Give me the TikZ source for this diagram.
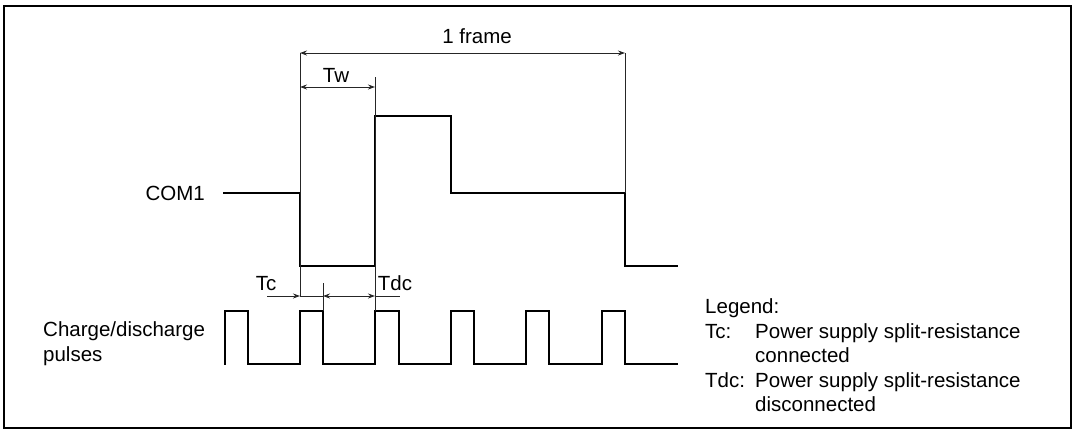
\documentclass[tikz,border=0pt]{standalone}
\usepackage{fontspec}
\setmainfont{Liberation Sans}
\usetikzlibrary{arrows.meta}
\begin{document}
\begin{tikzpicture}[x=1pt,y=-1pt,
  wave/.style={line width=2.8pt,line join=miter,line cap=rect},
  thin/.style={line width=0.9pt,black!85},
  dim/.style={thin,{Stealth[length=7pt,width=5pt]}-{Stealth[length=7pt,width=5pt]}},
  dimr/.style={thin,-{Stealth[length=7pt,width=5pt]}},
  lbl/.style={font=\fontsize{20.5}{24.5}\selectfont,inner sep=0pt,anchor=base},
  border/.style={line width=2pt}]
\useasboundingbox (0,0) rectangle (1075,432);
\draw[border] (4,6) rectangle (1070.5,428);

% COM1 waveform
\coordinate (c0) at (224,193);
\coordinate (c1) at (300,193);
\coordinate (c2) at (300,266);
\coordinate (c3) at (375,266);
\coordinate (c4) at (375,116);
\coordinate (c5) at (451,116);
\coordinate (c6) at (451,193);
\coordinate (c7) at (625,193);
\coordinate (c8) at (625,266);
\coordinate (c9) at (677,266);
\draw[wave] (c0) -- (c1) -- (c2) -- (c3) -- (c4) -- (c5) -- (c6) -- (c7) -- (c8) -- (c9);

% pulses
\draw[wave] (225,364)
  -- (225,311) -- (248,311) -- (248,364)
  -- (300,364) -- (300,311) -- (323,311) -- (323,364)
  -- (375,364) -- (375,311) -- (399,311) -- (399,364)
  -- (451,364) -- (451,311) -- (474,311) -- (474,364)
  -- (526,364) -- (526,311) -- (549,311) -- (549,364)
  -- (602,364) -- (602,311) -- (625,311) -- (625,364)
  -- (677,364);

% extension lines
\coordinate (e1t) at (300,53);  \coordinate (e1b) at (300,297);
\coordinate (e2t) at (375,77);  \coordinate (e2b) at (375,311);
\coordinate (e3t) at (625,53);  \coordinate (e3b) at (625,193);
\coordinate (e4t) at (323,283); \coordinate (e4b) at (323,311);
\draw[thin] (e1t) -- (e1b);
\draw[thin] (e2t) -- (e2b);
\draw[thin] (e3t) -- (e3b);
\draw[thin] (e4t) -- (e4b);

% dimension arrows
\coordinate (f1) at (300,53); \coordinate (f2) at (625,53);
\draw[dim] (f1) -- (f2);
\coordinate (w1) at (300,87); \coordinate (w2) at (375,87);
\draw[dim] (w1) -- (w2);
\coordinate (t0) at (267,296); \coordinate (t1) at (300,296);
\coordinate (t2) at (323,296); \coordinate (t3) at (375,296);
\coordinate (t4) at (400,296);
\draw[dimr] (t0) -- (t1);
\draw[thin] (t1) -- (t2);
\draw[dim] (t2) -- (t3);
\draw[thin] (t3) -- (t4);

% labels
\node[lbl] (frame) at (477,43) {1 frame};
\node[lbl] (tw) at (336,82) {Tw};
\node[lbl] (tc) at (266,290) {Tc};
\node[lbl] (tdc) at (395,290) {Tdc};
\node[lbl,anchor=base east] (com) at (205,200) {COM1};
\node[lbl,anchor=base west,align=left] (cd) at (43,361) {Charge/discharge\\pulses};

% legend
\node[lbl,anchor=base west] (lg) at (705,313) {Legend:};
\node[lbl,anchor=base west] (lg1) at (705,338) {Tc:};
\node[lbl,anchor=base west,align=left] (lg1t) at (755,362.5) {Power supply split-resistance\\connected};
\node[lbl,anchor=base west] (lg2) at (705,387) {Tdc:};
\node[lbl,anchor=base west,align=left] (lg2t) at (755,411.5) {Power supply split-resistance\\disconnected};
\end{tikzpicture}
\end{document}
